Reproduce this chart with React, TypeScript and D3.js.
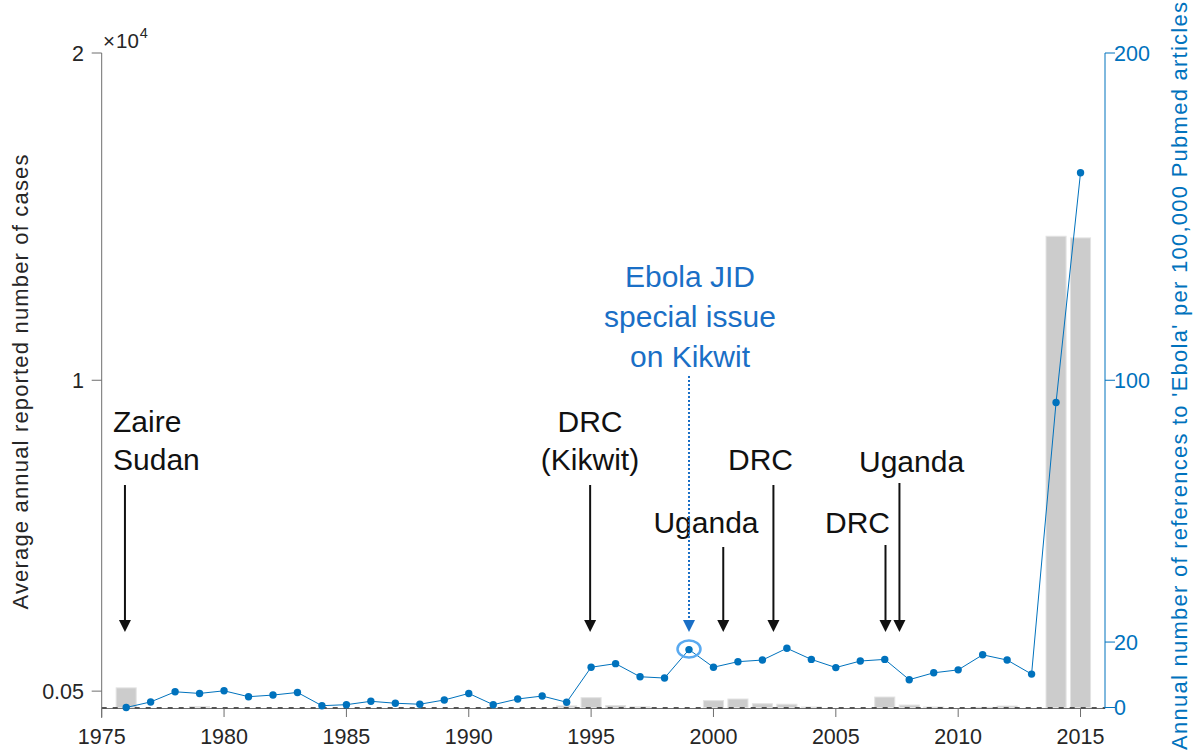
import React from "react";
import * as d3 from "d3";

// ---- data ----
const years = d3.range(1976, 2016); // 1976..2015
// average annual reported number of cases (bars, left axis)
const caseYears = [1976, 1979, 1994, 1995, 1996, 1997, 2000, 2001, 2002, 2003, 2004, 2007, 2008, 2009, 2011, 2012, 2014, 2015];
const caseValues = [600, 30, 50, 300, 60, 20, 210, 260, 115, 100, 15, 320, 75, 15, 5, 45, 14400, 14350];
// annual references per 100,000 Pubmed articles (line, right axis)
const refValues = [
  0, 1.7, 4.8, 4.3, 5.1, 3.3, 3.8, 4.6, 0.55, 0.86,
  1.9, 1.3, 1.0, 2.3, 4.3, 0.86, 2.6, 3.5, 1.6, 12.3,
  13.4, 9.4, 9.0, 17.7, 12.3, 14.0, 14.5, 18.1, 14.7, 12.2,
  14.2, 14.7, 8.5, 10.6, 11.5, 16.1, 14.5, 10.2, 93.2, 163.4,
];
const xTicks = [1975, 1980, 1985, 1990, 1995, 2000, 2005, 2010, 2015];
const leftTicks = [500, 10000, 20000];
const leftTickLabels = ["0.05", "1", "2"];
const rightTicks = [0, 20, 100, 200];
const highlightYear = 1999;

// event annotations
const events = [
  { lines: ["Zaire", "Sudan"], year: 1975.95, anchor: "start" },
  { lines: ["DRC", "(Kikwit)"], year: 1994.96, anchor: "middle" },
  { lines: ["Uganda"], year: 2000.4, anchor: "middle" },
  { lines: ["DRC"], year: 2002.45, anchor: "start" },
  { lines: ["DRC"], year: 2007.03, anchor: "start" },
  { lines: ["Uganda"], year: 2007.6, anchor: "start" },
];
// layout for annotations (text x, first baseline, arrow top)
const eventLayout = [
  { tx: 113, ty: 432, top: 485 },
  { tx: 590, ty: 432, top: 485 },
  { tx: 706, ty: 533, top: 547 },
  { tx: 728, ty: 470, top: 485 },
  { tx: 825, ty: 533, top: 545 },
  { tx: 859, ty: 472, top: 483 },
];
const jidLines = ["Ebola JID", "special issue", "on Kikwit"];

const W = 1193;
const H = 752;
const FONT = "'Helvetica Neue', Helvetica, 'Liberation Sans', Arial, sans-serif";
const BLUE = "#0072BD";
const ABLUE = "#1a6fc6";
const AXIS = "#6e6e6e";
const TXT = "#262626";
const TICK_FS = 21.5;
const LABEL_FS = 22;

export default function App() {
  const x = d3.scaleLinear().domain([1975, 2016]).range([101.7, 1105]);
  const yL = d3.scaleLinear().domain([0, 20000]).range([707.5, 53]);
  const yR = d3.scaleLinear().domain([0, 200]).range([707.5, 53]);
  const step = x(1) - x(0);
  const bw = step * 0.82;
  const line = d3
    .line<number>()
    .x((_, i) => x(years[i]))
    .y((d) => yR(d));
  const tipY = 632;
  const arrow = (ax: number, top: number, color: string, dotted = false) => (
    <g>
      <line
        x1={ax}
        x2={ax}
        y1={top}
        y2={tipY - 11}
        stroke={color}
        strokeWidth={2}
        strokeDasharray={dotted ? "2 2" : undefined}
      />
      <path d={`M${ax - 6},${tipY - 12} L${ax + 6},${tipY - 12} L${ax},${tipY} Z`} fill={color} />
    </g>
  );
  const hi = years.indexOf(highlightYear);
  const [x0, x1] = [101.7, 1105];

  return (
    <svg
      width={W}
      height={H}
      style={{ position: "absolute", left: 0, top: 0, background: "#fff" }}
      fontFamily={FONT}
    >
      {/* bars */}
      {caseYears.map((yr, i) => (
        <rect
          key={yr}
          x={x(yr) - bw / 2}
          y={yL(caseValues[i])}
          width={bw}
          height={Math.max(0, yL(0) - yL(caseValues[i]))}
          fill="#cccccc"
          stroke="#e3e3e3"
          strokeWidth={1}
        />
      ))}
      {/* x axis */}
      <line x1={x0} x2={x1} y1={708.5} y2={708.5} stroke={AXIS} strokeWidth={1} />
      <line x1={x0} x2={x1} y1={707.8} y2={707.8} stroke="#111" strokeWidth={1} strokeDasharray="5 6" />
      {xTicks.map((t) => (
        <g key={t}>
          <line x1={x(t)} x2={x(t)} y1={708.5} y2={717} stroke={AXIS} />
          <text x={x(t)} y={743.5} textAnchor="middle" fontSize={TICK_FS} fill={TXT}>
            {t}
          </text>
        </g>
      ))}
      {/* left axis */}
      <line x1={x0} x2={x0} y1={53} y2={718} stroke={AXIS} />
      {leftTicks.map((t, i) => (
        <g key={t}>
          <line x1={x0 - 10} x2={x0} y1={yL(t)} y2={yL(t)} stroke={AXIS} />
          <text x={84} y={yL(t) + 7.5} textAnchor="end" fontSize={TICK_FS} fill={TXT}>
            {leftTickLabels[i]}
          </text>
        </g>
      ))}
      <text x={103} y={48} fontSize={20.5} fill={TXT}>
        <tspan>×</tspan>
        <tspan dx={1}>10</tspan>
        <tspan fontSize={14.5} dy={-10} dx={1}>
          4
        </tspan>
      </text>
      <text
        transform={`translate(28,382) rotate(-90)`}
        textAnchor="middle"
        fontSize={LABEL_FS}
        fill={TXT}
        textLength={455}
        lengthAdjust="spacing"
      >
        Average annual reported number of cases
      </text>
      {/* right axis */}
      <line x1={x1} x2={x1} y1={53} y2={708.5} stroke={BLUE} />
      {rightTicks.map((t) => (
        <g key={t}>
          <line x1={x1} x2={x1 + 10} y1={yR(t)} y2={yR(t)} stroke={BLUE} />
          <text x={1114} y={yR(t) + 7.5} fontSize={TICK_FS} fill={BLUE}>
            {t}
          </text>
        </g>
      ))}
      <text
        transform={`translate(1187,376) rotate(-90)`}
        textAnchor="middle"
        fontSize={LABEL_FS}
        fill={BLUE}
        textLength={748}
        lengthAdjust="spacing"
      >
        Annual number of references to 'Ebola' per 100,000 Pubmed articles
      </text>
      {/* line */}
      <path d={line(refValues) || ""} fill="none" stroke={BLUE} strokeWidth={1} />
      {refValues.map((v, i) => (
        <circle key={i} cx={x(years[i])} cy={yR(v)} r={3.7} fill={BLUE} />
      ))}
      <ellipse
        cx={x(highlightYear)}
        cy={yR(refValues[hi]) - 0.5}
        rx={11.5}
        ry={8.5}
        fill="none"
        stroke="#5aaaf0"
        strokeWidth={2.5}
      />
      {/* annotations */}
      {events.map((e, i) => {
        const L = eventLayout[i];
        return (
          <g key={i}>
            {e.lines.map((s, j) => (
              <text
                key={j}
                x={L.tx}
                y={L.ty + j * 38}
                textAnchor={e.anchor as any}
                fontSize={30}
                fill="#111"
              >
                {s}
              </text>
            ))}
            {arrow(x(e.year), L.top, "#111")}
          </g>
        );
      })}
      {jidLines.map((s, j) => (
        <text key={j} x={690} y={287 + j * 40} textAnchor="middle" fontSize={30} fill={ABLUE}>
          {s}
        </text>
      ))}
      {arrow(x(highlightYear), 376, ABLUE, true)}
    </svg>
  );
}
